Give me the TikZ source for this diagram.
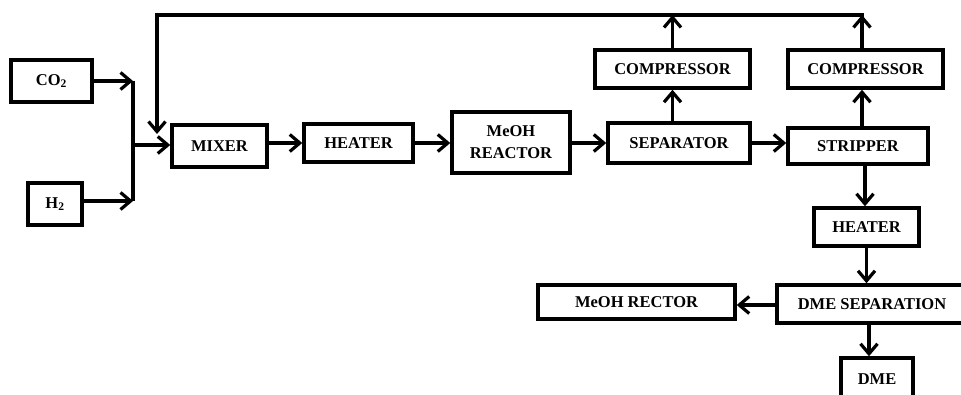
\documentclass[tikz,border=0pt]{standalone}
\usepackage{fontspec}
\setmainfont{Liberation Serif}
\usetikzlibrary{arrows.meta}
\begin{document}
\begin{tikzpicture}[x=1pt,y=-1pt,
  box/.style={draw, line width=3.5pt, minimum width=#1, inner sep=0pt, font=\bfseries\fontsize{16.5}{22}\selectfont, align=center},
  flow/.style={line width=3.2pt, -{Straight Barb[length=10pt,width=17pt,line width=3.2pt]}},
  pipe/.style={line width=3.5pt}]
\clip (0,0) rectangle (961,395);
\fill[white] (0,0) rectangle (961,395);
\node[box=81pt, minimum height=42pt] (co2) at (51.5,81) {CO\textsubscript{2}};
\node[box=54pt, minimum height=42pt] (h2) at (55,204) {H\textsubscript{2}};
\node[box=95pt, minimum height=42pt] (mixer) at (219.5,146) {MIXER};
\node[box=109pt, minimum height=38pt] (heat1) at (358.5,143) {HEATER};
\node[box=118pt, minimum height=61pt] (reac) at (511,142.5) {MeOH\\REACTOR};
\node[box=142pt, minimum height=40pt] (sep) at (679,143) {SEPARATOR};
\node[box=155pt, minimum height=38pt] (comp1) at (672.5,69) {COMPRESSOR};
\node[box=155pt, minimum height=38pt] (comp2) at (865.5,69) {COMPRESSOR};
\node[box=140pt, minimum height=36pt] (strip) at (858,146) {STRIPPER};
\node[box=105pt, minimum height=38pt] (heat2) at (866.5,227) {HEATER};
\node[box=190pt, minimum height=38pt] (dmesep) at (872,304) {DME SEPARATION};
\node[box=197pt, minimum height=34pt] (rector) at (636.5,302) {MeOH RECTOR};
\node[box=72pt, minimum height=42pt] (dme) at (877,379) {DME};
\coordinate (j1) at (133,81);
\coordinate (j2) at (133,201);
\coordinate (jm) at (133,145);
\coordinate (tR) at (862,15);
\coordinate (tL) at (157,15);
\coordinate (rc) at (157,134);
\draw[flow] (co2.east |- j1) -- (j1);
\draw[flow] (h2.east |- j2) -- (j2);
\draw[pipe] (j1) -- (j2);
\draw[flow] (jm) -- (jm -| mixer.west);
\draw[pipe, line cap=rect] (tR) -- (tL) -- ([yshift=-20pt]tL);
\draw[flow] ([yshift=-18pt]tL) -- (rc);
\draw[flow] (mixer.east |- heat1.east) -- (heat1.west);
\draw[flow] (heat1.east) -- (heat1.east -| reac.west);
\draw[flow] (reac.east |- sep.west) -- (sep.west);
\draw[flow] (sep.east) -- (sep.east -| strip.west);
\draw[flow] (comp1.south |- sep.north) -- (comp1.south);
\draw[flow] (comp1.north) -- (comp1.north |- tR);
\draw[flow] (strip.north -| tR) -- (tR |- comp2.south);
\draw[flow] (tR |- comp2.north) -- (tR);
\draw[flow] ([xshift=-1.5pt]heat2.north |- strip.south) -- ([xshift=-1.5pt]heat2.north);
\draw[flow] (heat2.south) -- (heat2.south |- dmesep.north);
\draw[flow] ([xshift=-8pt]dme.north |- dmesep.south) -- ([xshift=-8pt]dme.north);
\draw[flow] (dmesep.west |- 0,305) -- (rector.east |- 0,305);
\end{tikzpicture}
\end{document}
